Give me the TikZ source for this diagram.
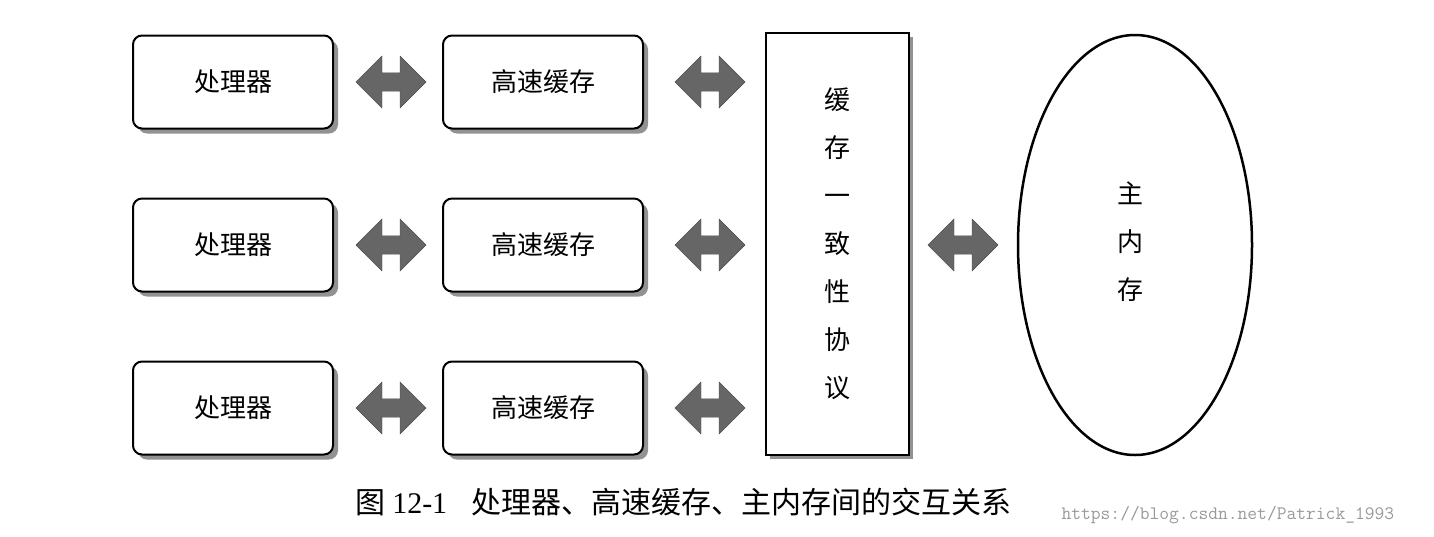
\documentclass[tikz,border=0pt]{standalone}
\usepackage{fontspec}
\setmainfont{Liberation Serif}
\newfontfamily\cjk{Noto Sans CJK SC}
\usetikzlibrary{shapes.arrows,shapes.geometric,shadows}
\begin{document}
\begin{tikzpicture}[x=1pt,y=-1pt,
  boxx/.style={draw=black,line width=2pt,rounded corners=9pt,fill=white,minimum width=200pt,minimum height=93pt,font=\cjk\fontsize{26}{30}\selectfont,
    drop shadow={shadow xshift=5pt,shadow yshift=-5pt,fill=black!85}},
  dbl/.style={double arrow,fill=black!60,draw=black!70,minimum height=70pt,minimum width=52pt,double arrow head extend=4pt,inner sep=2pt}]
\useasboundingbox (0,0) rectangle (1434,536);
\foreach \i/\y in {1/82,2/245,3/408}{
  \node[boxx] (p\i) at (233,\y) {处理器};
  \node[boxx] (c\i) at (543,\y) {高速缓存};
  \node[dbl] (a\i) at (391,\y) {};
  \node[dbl] (b\i) at (710,\y) {};
}
\node[draw=black,line width=2pt,fill=white,minimum width=143pt,minimum height=422pt,font=\cjk\fontsize{26}{48}\selectfont,align=center,
  drop shadow={shadow xshift=4pt,shadow yshift=-4pt,fill=black!85}] (proto) at (837.5,244)
  {缓\\存\\一\\致\\性\\协\\议};
\node[dbl] (m) at (963,245) {};
\node[draw=black,line width=2.5pt,ellipse,minimum width=234pt,minimum height=420pt] (mem) at (1135,245) {};
\node[font=\cjk\fontsize{26}{48}\selectfont,align=center] (memt) at (1130,242) {主\\内\\存};
\node[font=\cjk\fontsize{30}{32}\selectfont,anchor=west] (cap) at (352,502) {图 {\rmfamily 12-1}\hspace{24pt}处理器、高速缓存、主内存间的交互关系};
\node[font=\ttfamily\fontsize{19}{22}\selectfont,text=black!40,anchor=west] (wm) at (1058,515) {https://blog.csdn.net/Patrick\_1993};
\end{tikzpicture}
\end{document}
